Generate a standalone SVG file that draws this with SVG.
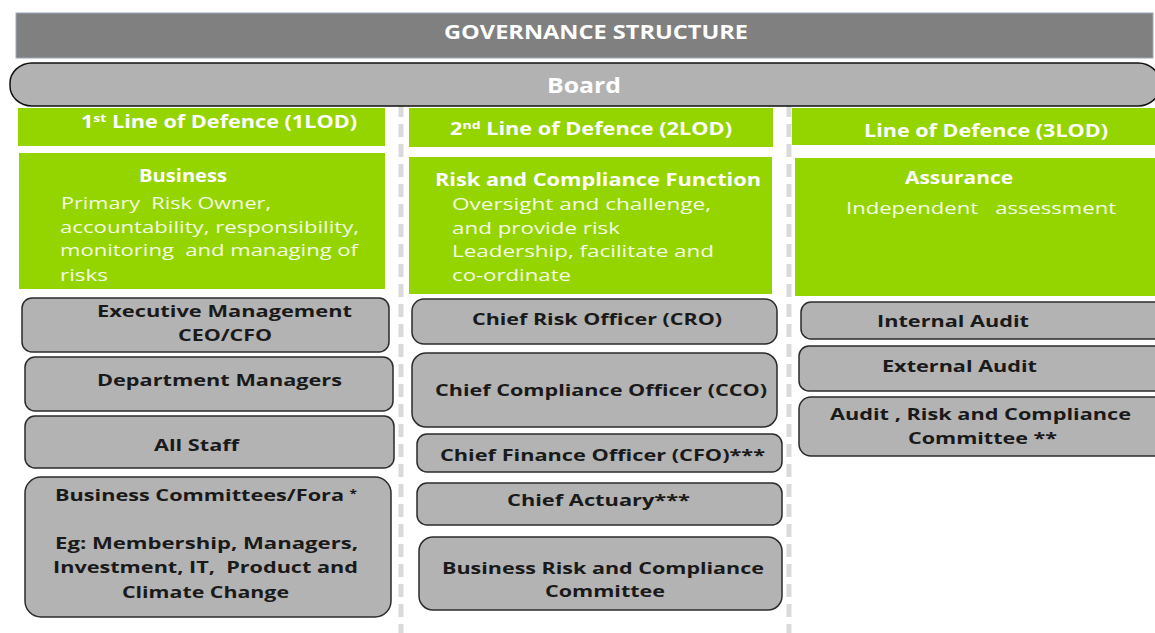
<svg xmlns="http://www.w3.org/2000/svg" width="1155" height="633" viewBox="0 0 1155 633">
  <style>
    text { font-family: "Open Sans", "DejaVu Sans", sans-serif; white-space: pre; }
    .title { fill: #ffffff; font-weight: bold; font-size: 19px; }
    .board { fill: #ffffff; font-weight: bold; font-size: 21px; }
    .hdr { fill: #ffffff; font-weight: bold; font-size: 17px; }
    .gh { fill: #ffffff; font-weight: bold; font-size: 17px; }
    .gt { fill: #f4fbe6; font-size: 17px; }
    .bt { fill: #1a1a1a; font-weight: bold; font-size: 16px; }
    .green { fill: #94d500; }
    .box { fill: #b3b3b3; stroke: #2b2b2b; stroke-width: 1.5; }
    .sep { stroke: #dadada; stroke-width: 5; stroke-dasharray: 13 7; fill: none; }
  </style>

  <!-- column separators -->
  <g id="connectors">
    <line class="sep" x1="401" y1="104" x2="401" y2="633"/>
    <line class="sep" x1="789" y1="104" x2="789" y2="633"/>
  </g>

  <!-- title bar -->
  <g id="title">
    <rect x="16" y="13" width="1137" height="45" fill="#808080" stroke="#9aa8bc" stroke-width="1"/>
    <text class="title" x="596" y="39" text-anchor="middle" textLength="304" lengthAdjust="spacingAndGlyphs">GOVERNANCE STRUCTURE</text>
  </g>

  <!-- board -->
  <g id="board">
    <rect x="10" y="63" width="1150" height="43" rx="22" ry="20" fill="#b2b2b2" stroke="#111" stroke-width="1.5"/>
    <text class="board" x="584" y="93" text-anchor="middle" textLength="74" lengthAdjust="spacingAndGlyphs">Board</text>
  </g>

  <!-- 1st line of defence -->
  <g id="lod1-header">
    <rect class="green" x="18" y="108" width="367" height="38"/>
    <text class="hdr" x="81" y="128" textLength="276" lengthAdjust="spacingAndGlyphs">1<tspan font-size="11" dy="-6">st</tspan><tspan dy="6"> Line of Defence (1LOD)</tspan></text>
  </g>
  <g id="business">
    <rect class="green" x="19" y="153" width="366" height="136"/>
    <text class="gh" x="139" y="182" textLength="88" lengthAdjust="spacingAndGlyphs">Business</text>
    <text class="gt" x="61" y="209" textLength="210" lengthAdjust="spacingAndGlyphs">Primary  Risk Owner,</text>
    <text class="gt" x="60" y="233" textLength="299" lengthAdjust="spacingAndGlyphs">accountability, responsibility,</text>
    <text class="gt" x="60" y="256" textLength="298" lengthAdjust="spacingAndGlyphs">monitoring  and managing of</text>
    <text class="gt" x="60" y="281" textLength="48" lengthAdjust="spacingAndGlyphs">risks</text>
  </g>
  <g id="executive-management">
    <rect class="box" x="22" y="298" width="367" height="54" rx="10"/>
    <text class="bt" x="97" y="317" textLength="255" lengthAdjust="spacingAndGlyphs">Executive Management</text>
    <text class="bt" x="178" y="341" textLength="94" lengthAdjust="spacingAndGlyphs">CEO/CFO</text>
  </g>
  <g id="department-managers">
    <rect class="box" x="25" y="357" width="368" height="54" rx="10"/>
    <text class="bt" x="97" y="386" textLength="245" lengthAdjust="spacingAndGlyphs">Department Managers</text>
  </g>
  <g id="all-staff">
    <rect class="box" x="25" y="416" width="369" height="52" rx="10"/>
    <text class="bt" x="154" y="451" textLength="85" lengthAdjust="spacingAndGlyphs">All Staff</text>
  </g>
  <g id="business-committees">
    <rect class="box" x="25" y="477" width="366" height="140" rx="16"/>
    <text class="bt" x="55" y="501" textLength="302" lengthAdjust="spacingAndGlyphs">Business Committees/Fora <tspan font-size="10" dy="-4">*</tspan></text>
    <text class="bt" x="55" y="549" textLength="303" lengthAdjust="spacingAndGlyphs">Eg: Membership, Managers,</text>
    <text class="bt" x="53" y="573" textLength="305" lengthAdjust="spacingAndGlyphs">Investment, IT,  Product and</text>
    <text class="bt" x="122" y="598" textLength="167" lengthAdjust="spacingAndGlyphs">Climate Change</text>
  </g>

  <!-- 2nd line of defence -->
  <g id="lod2-header">
    <rect class="green" x="409" y="108" width="364" height="39"/>
    <text class="hdr" x="450" y="135" textLength="282" lengthAdjust="spacingAndGlyphs">2<tspan font-size="11" dy="-6">nd</tspan><tspan dy="6"> Line of Defence (2LOD)</tspan></text>
  </g>
  <g id="risk-compliance-function">
    <rect class="green" x="409" y="157" width="363" height="137"/>
    <text class="gh" x="435" y="186" textLength="326" lengthAdjust="spacingAndGlyphs">Risk and Compliance Function</text>
    <text class="gt" x="452" y="210" textLength="259" lengthAdjust="spacingAndGlyphs">Oversight and challenge,</text>
    <text class="gt" x="452" y="234" textLength="168" lengthAdjust="spacingAndGlyphs">and provide risk</text>
    <text class="gt" x="452" y="257" textLength="262" lengthAdjust="spacingAndGlyphs">Leadership, facilitate and</text>
    <text class="gt" x="452" y="281" textLength="119" lengthAdjust="spacingAndGlyphs">co-ordinate</text>
  </g>
  <g id="cro">
    <rect class="box" x="412" y="299" width="365" height="45" rx="12"/>
    <text class="bt" x="472" y="325" textLength="250" lengthAdjust="spacingAndGlyphs">Chief Risk Officer (CRO)</text>
  </g>
  <g id="cco">
    <rect class="box" x="412" y="353" width="365" height="74" rx="14"/>
    <text class="bt" x="435" y="396" textLength="332" lengthAdjust="spacingAndGlyphs">Chief Compliance Officer (CCO)</text>
  </g>
  <g id="cfo">
    <rect class="box" x="417" y="434" width="365" height="38" rx="10"/>
    <text class="bt" x="440" y="461" textLength="325" lengthAdjust="spacingAndGlyphs">Chief Finance Officer (CFO)***</text>
  </g>
  <g id="chief-actuary">
    <rect class="box" x="417" y="483" width="365" height="42" rx="10"/>
    <text class="bt" x="507" y="506" textLength="183" lengthAdjust="spacingAndGlyphs">Chief Actuary***</text>
  </g>
  <g id="business-risk-committee">
    <rect class="box" x="419" y="537" width="363" height="73" rx="14"/>
    <text class="bt" x="442" y="574" textLength="322" lengthAdjust="spacingAndGlyphs">Business Risk and Compliance</text>
    <text class="bt" x="545" y="597" textLength="120" lengthAdjust="spacingAndGlyphs">Committee</text>
  </g>

  <!-- 3rd line of defence -->
  <g id="lod3-header">
    <rect class="green" x="792" y="108" width="363" height="37"/>
    <text class="hdr" x="864" y="137" textLength="244" lengthAdjust="spacingAndGlyphs">Line of Defence (3LOD)</text>
  </g>
  <g id="assurance">
    <rect class="green" x="795" y="158" width="360" height="138"/>
    <text class="gh" x="905" y="184" textLength="108" lengthAdjust="spacingAndGlyphs">Assurance</text>
    <text class="gt" x="846" y="214" textLength="270" lengthAdjust="spacingAndGlyphs">Independent   assessment</text>
  </g>
  <g id="internal-audit">
    <rect class="box" x="801" y="302" width="370" height="37" rx="10"/>
    <text class="bt" x="877" y="327" textLength="152" lengthAdjust="spacingAndGlyphs">Internal Audit</text>
  </g>
  <g id="external-audit">
    <rect class="box" x="799" y="346" width="372" height="45" rx="10"/>
    <text class="bt" x="882" y="372" textLength="155" lengthAdjust="spacingAndGlyphs">External Audit</text>
  </g>
  <g id="audit-risk-committee">
    <rect class="box" x="799" y="397" width="372" height="59" rx="12"/>
    <text class="bt" x="830" y="420" textLength="301" lengthAdjust="spacingAndGlyphs">Audit , Risk and Compliance</text>
    <text class="bt" x="908" y="444" textLength="149" lengthAdjust="spacingAndGlyphs">Committee **</text>
  </g>
</svg>
